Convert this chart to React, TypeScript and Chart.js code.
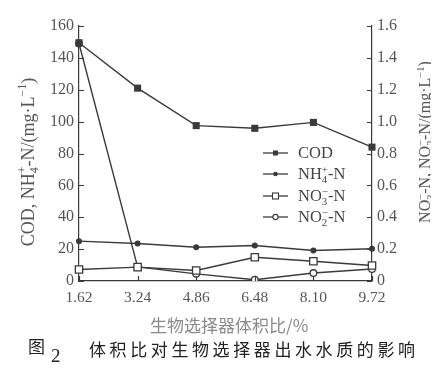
import React, { useEffect, useRef } from "react";
import { Chart, registerables } from "chart.js";

Chart.register(...registerables);

const categories = ["1.62", "3.24", "4.86", "6.48", "8.10", "9.72"];
const codValues = [149.5, 121, 97.5, 95.8, 99.5, 84];
const nh4Values = [25, 23.5, 21.2, 22.3, 19.1, 20.2];
const no3Values = [0.072, 0.087, 0.066, 0.149, 0.124, 0.097];
const no2Values = [1.49, 0.088, 0.045, 0.008, 0.05, 0.075];
const leftTicks = { min: 0, max: 160, step: 20 };
const rightTicks = { min: 0, max: 1.6, step: 0.2 };

const SERIF = "'Liberation Serif', 'Times New Roman', serif";
const LINE = "#3a3a3a";
const TXT = "#555";

type Seg = { t: string; k?: "sub" | "sup" };

function drawRich(ctx: CanvasRenderingContext2D, segs: Seg[], x: number, y: number, size: number, align: "center" | "left") {
  const small = size * 0.66;
  // compute positions, stacking a sup directly after a sub
  const pos: number[] = [];
  let cur = 0;
  let lastSubStart = -1;
  let lastSubW = 0;
  segs.forEach((s, i) => {
    ctx.font = `${s.k ? small : size}px ${SERIF}`;
    const w = ctx.measureText(s.t).width;
    if (s.k === "sup" && i > 0 && segs[i - 1].k === "sub") {
      pos.push(lastSubStart);
      cur = lastSubStart + Math.max(lastSubW, w);
    } else {
      pos.push(cur);
      if (s.k === "sub") { lastSubStart = cur; lastSubW = w; }
      cur += w;
    }
  });
  const total = cur;
  const x0 = align === "center" ? x - total / 2 : x;
  ctx.textAlign = "left";
  ctx.textBaseline = "middle";
  segs.forEach((s, i) => {
    ctx.font = `${s.k ? small : size}px ${SERIF}`;
    const dy = s.k === "sub" ? size * 0.3 : s.k === "sup" ? -size * 0.32 : 0;
    ctx.fillText(s.t, x0 + pos[i], y + dy);
  });
}

function marker(ctx: CanvasRenderingContext2D, kind: string, x: number, y: number) {
  ctx.save();
  ctx.strokeStyle = LINE;
  ctx.fillStyle = LINE;
  ctx.lineWidth = 1.1;
  if (kind === "fsq") {
    ctx.fillRect(x - 2.5, y - 2.5, 5, 5);
  } else if (kind === "fci") {
    ctx.beginPath();
    ctx.arc(x, y, 2.3, 0, Math.PI * 2);
    ctx.fill();
  } else if (kind === "osq") {
    ctx.fillStyle = "#fff";
    ctx.fillRect(x - 3, y - 3, 6, 6);
    ctx.strokeRect(x - 3, y - 3, 6, 6);
  } else {
    ctx.fillStyle = "#fff";
    ctx.beginPath();
    ctx.arc(x, y, 2.6, 0, Math.PI * 2);
    ctx.fill();
    ctx.stroke();
  }
  ctx.restore();
}

const legendItems: { kind: string; segs: Seg[] }[] = [
  { kind: "fsq", segs: [{ t: "COD" }] },
  { kind: "fci", segs: [{ t: "NH" }, { t: "4", k: "sub" }, { t: "+", k: "sup" }, { t: "-N" }] },
  { kind: "osq", segs: [{ t: "NO" }, { t: "3", k: "sub" }, { t: "−", k: "sup" }, { t: "-N" }] },
  { kind: "oci", segs: [{ t: "NO" }, { t: "2", k: "sub" }, { t: "−", k: "sup" }, { t: "-N" }] },
];

const decorPlugin = {
  id: "decor",
  afterDatasetsDraw(chart: any) {
    const ctx: CanvasRenderingContext2D = chart.ctx;
    const { left, right, bottom } = chart.chartArea;
    const sy = chart.scales.y;
    const sy1 = chart.scales.y1;
    const sx = chart.scales.x;
    ctx.save();
    ctx.strokeStyle = LINE;
    ctx.lineWidth = 1.2;
    ctx.beginPath();
    sy.ticks.forEach((_t: any, i: number) => {
      const p = Math.round(sy.getPixelForTick(i)) + 0.5;
      ctx.moveTo(left, p);
      ctx.lineTo(left + 5, p);
    });
    sy1.ticks.forEach((_t: any, i: number) => {
      const p = Math.round(sy1.getPixelForTick(i)) + 0.5;
      ctx.moveTo(right, p);
      ctx.lineTo(right - 5, p);
    });
    sx.ticks.forEach((_t: any, i: number) => {
      const p = Math.round(sx.getPixelForTick(i)) + 0.5;
      ctx.moveTo(p, bottom);
      ctx.lineTo(p, bottom - 5);
    });
    ctx.stroke();

    // legend
    const lx0 = 255, lx1 = 280, tx = 290;
    const rows = [145, 166, 188, 209];
    legendItems.forEach((it, i) => {
      const y = rows[i];
      ctx.strokeStyle = LINE;
      ctx.lineWidth = 1.3;
      ctx.beginPath();
      ctx.moveTo(lx0, y);
      ctx.lineTo(lx1, y);
      ctx.stroke();
      marker(ctx, it.kind, (lx0 + lx1) / 2, y);
      ctx.fillStyle = "#444";
      drawRich(ctx, it.segs, tx, y + 1, 16.5, "left");
    });

    // axis titles
    ctx.fillStyle = TXT;
    ctx.save();
    ctx.translate(21, 154);
    ctx.rotate(-Math.PI / 2);
    drawRich(ctx, [
      { t: "COD, NH" }, { t: "4", k: "sub" }, { t: "+", k: "sup" }, { t: "-N/(mg·L" }, { t: "−1", k: "sup" }, { t: ")" },
    ], 0, 0, 18, "center");
    ctx.restore();
    ctx.save();
    ctx.translate(418, 134);
    ctx.rotate(-Math.PI / 2);
    drawRich(ctx, [
      { t: "NO" }, { t: "3", k: "sub" }, { t: "−", k: "sup" }, { t: "-N, NO" }, { t: "2", k: "sub" }, { t: "−", k: "sup" }, { t: "-N/(mg·L" }, { t: "−1", k: "sup" }, { t: ")" },
    ], 0, 0, 16, "center");
    ctx.restore();
    ctx.restore();
  },
};

export default function App() {
  const ref = useRef<HTMLCanvasElement | null>(null);
  useEffect(() => {
    if (!ref.current) return;
    const tickFont = { family: SERIF, size: 16 };
    const chart = new Chart(ref.current, {
      type: "line",
      data: {
        labels: categories,
        datasets: [
          { label: "COD", data: codValues, yAxisID: "y", borderColor: LINE, backgroundColor: LINE, borderWidth: 1.4, pointStyle: "rect", pointRadius: 5, pointBorderWidth: 0 },
          { label: "NH4+-N", data: nh4Values, yAxisID: "y", borderColor: LINE, backgroundColor: LINE, borderWidth: 1.4, pointStyle: "circle", pointRadius: 3, pointBorderWidth: 0 },
          { label: "NO3--N", data: no3Values, yAxisID: "y1", borderColor: LINE, backgroundColor: "#fff", borderWidth: 1.4, pointStyle: "rect", pointRadius: 5.2, pointBorderWidth: 1.3 },
          { label: "NO2--N", data: no2Values, yAxisID: "y1", borderColor: LINE, backgroundColor: "#fff", borderWidth: 1.4, pointStyle: "circle", pointRadius: 3.3, pointBorderWidth: 1.3 },
        ],
      },
      options: {
        animation: false,
        responsive: true,
        maintainAspectRatio: false,
        layout: { padding: { top: 18, left: 0, right: 0, bottom: 0 } },
        plugins: { legend: { display: false }, tooltip: { enabled: false } },
        elements: { line: { tension: 0 } },
        scales: {
          x: {
            type: "category",
            offset: false,
            grid: { display: true, drawOnChartArea: false, drawTicks: false },
            border: { display: true, color: LINE, width: 1.2 },
            ticks: { font: { family: SERIF, size: 15.5 }, color: TXT, padding: 8, maxRotation: 0, autoSkip: false },
            afterFit: (s: any) => { s.height = 86; },
          },
          y: {
            position: "left",
            min: leftTicks.min,
            max: leftTicks.max,
            grid: { display: true, drawOnChartArea: false, drawTicks: false },
            border: { display: true, color: LINE, width: 1.2 },
            ticks: { stepSize: leftTicks.step, font: tickFont, color: TXT, padding: 5 },
            afterFit: (s: any) => { s.width = 71; },
          },
          y1: {
            position: "right",
            min: rightTicks.min,
            max: rightTicks.max,
            grid: { display: true, drawOnChartArea: false, drawTicks: false },
            border: { display: true, color: LINE, width: 1.2 },
            ticks: {
              stepSize: rightTicks.step,
              font: tickFont,
              color: TXT,
              padding: 5,
              callback: (v: any) => (Number(v) === 0 ? "0" : Number(v).toFixed(1)),
            },
            afterFit: (s: any) => { s.width = 59; },
          },
        },
      },
      plugins: [decorPlugin],
    });
    return () => chart.destroy();
  }, []);

  const cjk = "'Noto Sans CJK SC', sans-serif";
  return (
    <div style={{ position: "relative", width: 423, height: 359 }}>
      <canvas ref={ref} />
      <div style={{ position: "absolute", left: 142, top: 308, fontFamily: cjk, fontSize: 17, color: "#8a8a8a", lineHeight: "18px", whiteSpace: "nowrap" }}>
        生物选择器体积比/%
      </div>
      <div style={{ position: "absolute", left: 20, top: 328, fontFamily: cjk, fontSize: 17, color: "#222", lineHeight: "20px", whiteSpace: "nowrap" }}>
        图
      </div>
      <div style={{ position: "absolute", left: 43, top: 338, fontFamily: SERIF, fontSize: 19, color: "#222", lineHeight: "20px", whiteSpace: "nowrap" }}>
        2
      </div>
      <div style={{ position: "absolute", left: 81, top: 331, fontFamily: cjk, fontSize: 17, letterSpacing: "3.6px", color: "#222", lineHeight: "20px", whiteSpace: "nowrap" }}>
        体积比对生物选择器出水水质的影响
      </div>
    </div>
  );
}
